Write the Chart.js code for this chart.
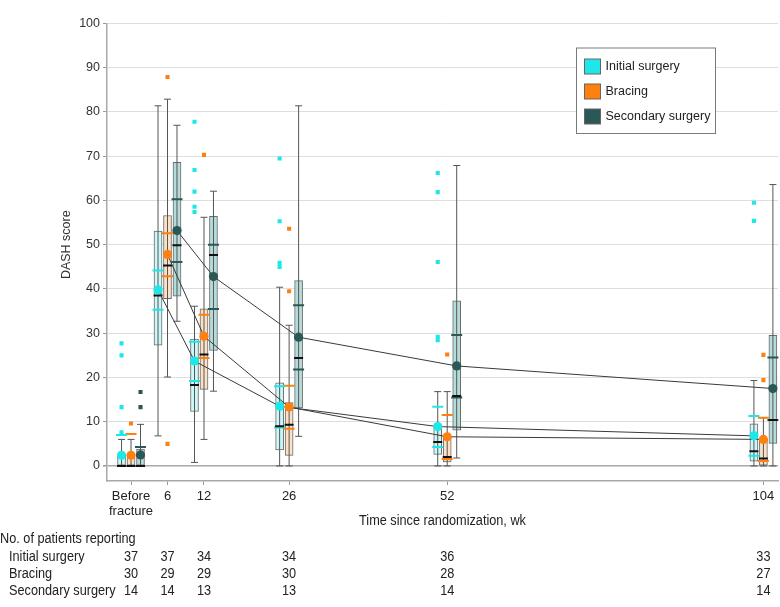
<!DOCTYPE html>
<html><head><meta charset="utf-8">
<script src="https://cdn.jsdelivr.net/npm/chart.js@4/dist/chart.umd.min.js"></script>
<style>html,body{margin:0;padding:0;background:#fff}</style>
</head><body>
<canvas id="c" width="780" height="607"></canvas>
<script>
// ---------- DATA ----------
const weeks = [0, 6, 12, 26, 52, 104];
const tickLabels = [['Before', 'fracture'], '6', '12', '26', '52', '104'];
const groupNames = ['Initial surgery', 'Bracing', 'Secondary surgery'];
const yTitle = 'DASH score';
const xTitle = 'Time since randomization, wk';
const tableTitle = 'No. of patients reporting';

const initialMin    = [0,   6.8,  0.8,  0,    0,    0];
const initialQ1     = [0,   27.3, 12.3, 3.6,  2.6,  1.1];
const initialMedian = [0,   38.5, 18.3, 9.0,  5.4,  3.3];
const initialQ3     = [2.4, 53.1, 28.7, 18.8, 8.8,  9.5];
const initialMax    = [6.0, 81.4, 36.1, 40.4, 16.8, 19.3];
const initialMean   = [2.4, 39.8, 23.7, 13.5, 8.9,  6.8];
const initialCILow  = [null, 35.3, 19.2, 8.7, 4.3,  2.3];
const initialCIHigh = [7.0, 44.2, 28.1, 18.0, 13.4, 11.3];
const initialOutliers = [[7.6, 13.3, 25.0, 27.7], [], [57.4, 58.6, 62.0, 66.9, 77.8], [45.0, 45.9, 55.3, 69.5], [28.4, 29.2, 46.1, 61.9, 66.2], [55.4, 59.5]];

const bracingMin    = [0,   20.1, 6.0,  0,    0,    0];
const bracingQ1     = [0,   37.8, 17.3, 2.4,  0.9,  0.2];
const bracingMedian = [0,   45.3, 25.2, 9.3,  2.0,  1.7];
const bracingQ3     = [2.4, 56.6, 35.5, 14.3, 6.7,  6.2];
const bracingMax    = [6.0, 82.9, 56.2, 31.8, 16.8, 10.9];
const bracingMean   = [2.4, 47.8, 29.3, 13.3, 6.6,  6.0];
const bracingCILow  = [null, 42.9, 24.4, 8.4, 1.6,  1.1];
const bracingCIHigh = [7.2, 52.6, 34.2, 18.1, 11.5, 10.9];
const bracingOutliers = [[9.6], [5.0, 87.9], [70.3], [39.5, 53.6], [25.2], [19.4, 25.1]];

const secondaryMin    = [0,   32.7, 16.9, 6.7,  1.8,  0];
const secondaryQ1     = [0,   38.4, 26.1, 13.1, 8.1,  5.1];
const secondaryMedian = [0,   49.9, 47.7, 24.4, 15.8, 10.4];
const secondaryQ3     = [3.8, 68.6, 56.4, 41.9, 37.3, 29.5];
const secondaryMax    = [9.4, 77.0, 62.1, 81.4, 67.9, 63.6];
const secondaryMean   = [2.5, 53.2, 42.8, 29.1, 22.6, 17.5];
const secondaryCILow  = [null, 46.1, 35.5, 21.8, 15.5, 10.4];
const secondaryCIHigh = [4.3, 60.3, 50.0, 36.3, 29.6, 24.5];
const secondaryOutliers = [[13.3, 16.7], [], [], [], [], []];

const patientsInitial   = [37, 37, 34, 34, 36, 33];
const patientsBracing   = [30, 29, 29, 30, 28, 27];
const patientsSecondary = [14, 14, 13, 13, 14, 14];

// ---------- STYLE ----------
const colors = ['#1fe6e8', '#ff7f0f', '#2a5856'];
const fills  = ['#ccf8f8', '#fde1c6', '#b5dcda'];
const offsets = [-1.56, 0, 1.56]; // group offset in weeks
const regular = '"Liberation Sans", Arial, sans-serif';
const SQ = 0.82; // horizontal squeeze for condensed-looking text

const groups = [
  {min: initialMin, q1: initialQ1, med: initialMedian, q3: initialQ3, max: initialMax, mean: initialMean, lo: initialCILow, hi: initialCIHigh, out: initialOutliers},
  {min: bracingMin, q1: bracingQ1, med: bracingMedian, q3: bracingQ3, max: bracingMax, mean: bracingMean, lo: bracingCILow, hi: bracingCIHigh, out: bracingOutliers},
  {min: secondaryMin, q1: secondaryQ1, med: secondaryMedian, q3: secondaryQ3, max: secondaryMax, mean: secondaryMean, lo: secondaryCILow, hi: secondaryCIHigh, out: secondaryOutliers}
];

const datasets = [];
groups.forEach((g, gi) => {
  const off = offsets[gi];
  const xs = weeks.map(w => w + off);
  datasets.push({
    type: 'bar', label: groupNames[gi] + ' box',
    data: xs.map((x, i) => ({x, y: [g.q1[i], g.q3[i]]})),
    backgroundColor: fills[gi], borderColor: '#6a6a6a', borderWidth: 1,
    borderSkipped: false, barThickness: 8, grouped: false, order: 6, clip: 10
  });
  const wh = [];
  xs.forEach((x, i) => { wh.push({x, y: g.min[i]}, {x, y: g.max[i]}, {x, y: null}); });
  datasets.push({
    type: 'line', data: wh, borderColor: '#555', borderWidth: 1,
    pointRadius: 0, spanGaps: false, fill: false, order: 5, clip: 10
  });
  const caps = [];
  xs.forEach((x, i) => { caps.push({x, y: g.min[i]}, {x, y: g.max[i]}); });
  datasets.push({
    type: 'scatter', data: caps, pointStyle: 'line', pointRadius: 3.5,
    pointBorderColor: '#555', borderColor: '#555', pointBorderWidth: 1, borderWidth: 1, order: 5, clip: 10
  });
  const ci = [];
  xs.forEach((x, i) => {
    if (g.lo[i] !== null) ci.push({x, y: g.lo[i]});
    if (g.hi[i] !== null) ci.push({x, y: g.hi[i]});
  });
  datasets.push({
    type: 'scatter', data: ci, pointStyle: 'line', pointRadius: 5.5,
    pointBorderColor: colors[gi], borderColor: colors[gi], pointBorderWidth: 2, borderWidth: 2, order: 4, clip: 10
  });
  datasets.push({
    type: 'scatter', data: xs.map((x, i) => ({x, y: g.med[i]})), pointStyle: 'line', pointRadius: 4.5,
    pointBorderColor: '#111', borderColor: '#111', pointBorderWidth: 2, borderWidth: 2, order: 3, clip: 10
  });
  datasets.push({
    type: 'line', data: xs.slice(1).map((x, i) => ({x, y: g.mean[i + 1]})),
    borderColor: '#3a3a3a', borderWidth: 1, pointRadius: 0, fill: false, order: 2, clip: 10
  });
  datasets.push({
    type: 'scatter', data: xs.map((x, i) => ({x, y: g.mean[i]})), pointStyle: 'circle', pointRadius: 4.6,
    pointBackgroundColor: colors[gi], backgroundColor: colors[gi], pointBorderWidth: 0, borderWidth: 0, order: 1, clip: 10
  });
  const outs = [];
  xs.forEach((x, i) => g.out[i].forEach(v => outs.push({x, y: v})));
  datasets.push({
    type: 'scatter', data: outs, pointStyle: 'rect', pointRadius: 2.9,
    pointBackgroundColor: colors[gi], backgroundColor: colors[gi], pointBorderWidth: 0, borderWidth: 0, order: 1, clip: 10
  });
});

function narrowText(ctx, text, x, y, align) {
  ctx.save();
  ctx.translate(x, y);
  ctx.scale(SQ, 1);
  ctx.textAlign = align;
  ctx.fillText(text, 0, 0);
  ctx.restore();
}

const overlay = {
  id: 'overlay',
  afterDraw(chart) {
    const ctx = chart.ctx, a = chart.chartArea, xs = chart.scales.x, ys = chart.scales.y;
    ctx.save();
    // y title
    ctx.fillStyle = '#333';
    ctx.font = '12.5px ' + regular;
    ctx.textAlign = 'center'; ctx.textBaseline = 'middle';
    ctx.save();
    ctx.translate(67, (ys.getPixelForValue(0) + ys.getPixelForValue(100)) / 2);
    ctx.rotate(-Math.PI / 2);
    ctx.fillText(yTitle, 0, 0);
    ctx.restore();
    // x title
    ctx.font = '15.5px ' + regular;
    ctx.fillStyle = '#222';
    narrowText(ctx, xTitle, (a.left + a.right) / 2, 521, 'center');
    // table
    narrowText(ctx, tableTitle, 0, 539, 'left');
    const rows = [patientsInitial, patientsBracing, patientsSecondary];
    const rowY = [556.5, 573.5, 590.5];
    rows.forEach((r, ri) => {
      narrowText(ctx, groupNames[ri], 9, rowY[ri], 'left');
      r.forEach((n, i) => narrowText(ctx, String(n), xs.getPixelForValue(weeks[i]), rowY[ri], 'center'));
    });
    // legend
    const lx = 576, ly = a.top + 24, lw = 139, lh = 85.5;
    ctx.fillStyle = '#fff';
    ctx.fillRect(lx, ly, lw, lh);
    ctx.strokeStyle = '#7a7a7a'; ctx.lineWidth = 1;
    ctx.strokeRect(lx + 0.5, ly + 0.5, lw, lh);
    ctx.font = '12.5px ' + regular;
    ctx.textAlign = 'left';
    groupNames.forEach((nm, i) => {
      const cy = ly + 19 + i * 25;
      ctx.fillStyle = colors[i];
      ctx.fillRect(lx + 8.5, cy - 7.5, 16, 15);
      ctx.strokeStyle = '#666';
      ctx.strokeRect(lx + 8.5, cy - 7.5, 16, 15);
      ctx.fillStyle = '#222';
      ctx.fillText(nm, lx + 29.5, cy);
    });
    ctx.restore();
  }
};

new Chart(document.getElementById('c'), {
  type: 'scatter',
  data: {datasets},
  options: {
    responsive: false, animation: false, events: [],
    layout: {autoPadding: false, padding: {top: 23.5, right: 2, left: 0, bottom: 0}},
    plugins: {legend: {display: false}, tooltip: {enabled: false}},
    scales: {
      x: {
        type: 'linear', min: -3.95, max: 106.4, offset: false,
        afterBuildTicks: s => { s.ticks = weeks.map(v => ({value: v})); },
        afterFit: s => { s.height = 126; s.paddingLeft = 0; s.paddingRight = 0; },
        ticks: {
          autoSkip: false, maxRotation: 0, padding: 4, color: '#222',
          font: {family: regular, size: 13, lineHeight: 1.15},
          callback: (v, i) => tickLabels[i]
        },
        grid: {drawOnChartArea: false, drawTicks: true, tickLength: 4, tickColor: '#999', offset: false},
        border: {color: '#a8a8a8', width: 1.5}
      },
      y: {
        type: 'linear', min: -3.4, max: 100,
        afterBuildTicks: s => { const t = []; for (let v = 0; v <= 100; v += 10) t.push({value: v}); s.ticks = t; },
        afterFit: s => { s.width = 107; },
        ticks: {padding: 3, color: '#333', font: {family: regular, size: 12.5}},
        grid: {
          color: c => (c.tick && c.tick.value === 0) ? '#a8a8a8' : '#dedede',
          lineWidth: c => (c.tick && c.tick.value === 0) ? 1.5 : 1,
          tickLength: 4, tickColor: '#999'
        },
        border: {color: '#a8a8a8', width: 1.5}
      }
    }
  },
  plugins: [overlay]
});
</script>
</body></html>
